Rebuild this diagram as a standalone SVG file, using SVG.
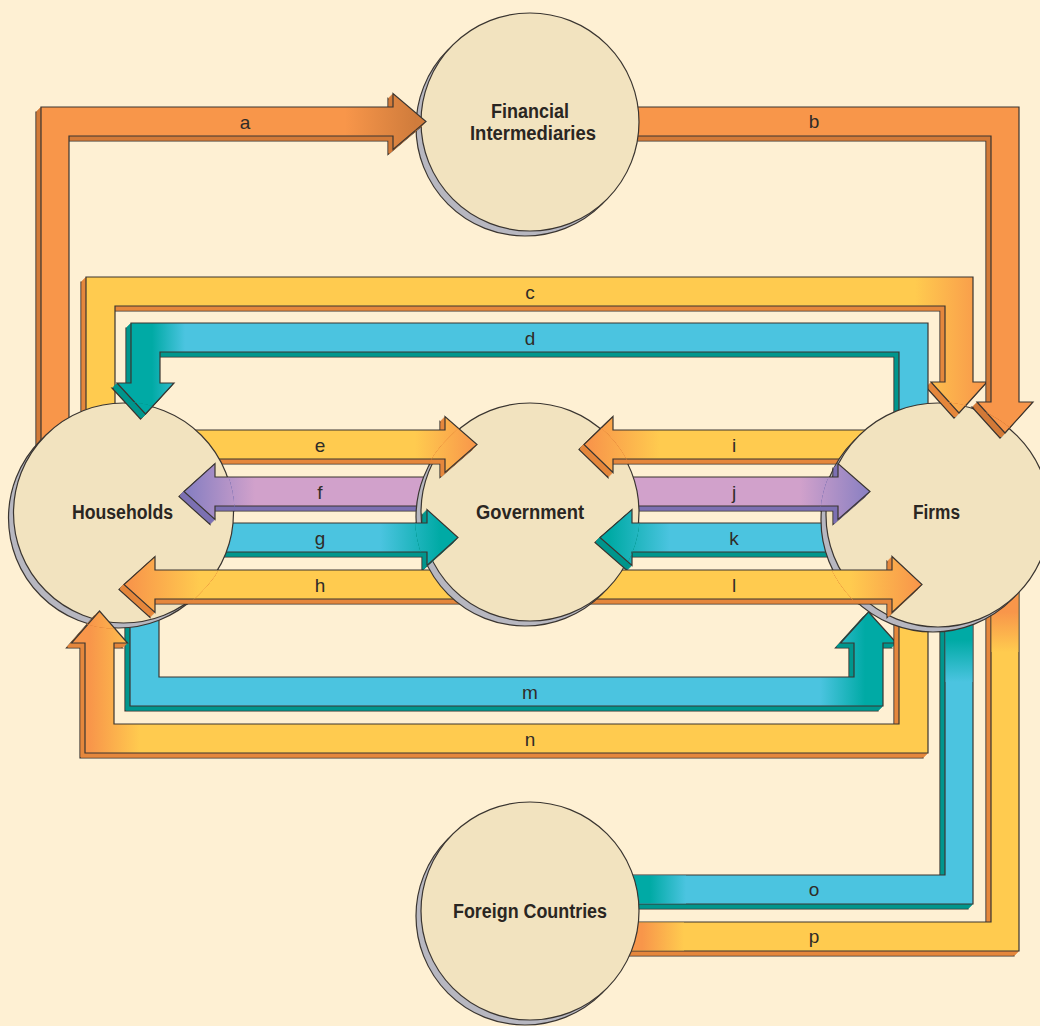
<svg xmlns="http://www.w3.org/2000/svg" xmlns:xlink="http://www.w3.org/1999/xlink" width="1040" height="1026" viewBox="0 0 1040 1026">
<style>
.face{stroke:#3a3530;stroke-width:1.2;stroke-linejoin:miter}
.do{fill:#D27A38;stroke:#D27A38;stroke-width:1}
.dy{fill:#E5873C;stroke:#E5873C;stroke-width:1}
.db{fill:#00968D;stroke:#00968D;stroke-width:1}
.dp{fill:#7C71B2;stroke:#7C71B2;stroke-width:1}
.edge{stroke:#3a3530;stroke-width:1.2}
.shadow{fill:#B7B7C0;stroke:#3a3530;stroke-width:1.2}
.disc{fill:#F2E3BF;stroke:#3a3530;stroke-width:1.2}
.lbl{font-family:"Liberation Sans",Arial,sans-serif;font-size:19px;fill:#302c28;text-anchor:middle}
.nl{font-family:"Liberation Sans",Arial,sans-serif;font-size:20px;font-weight:bold;fill:#2a2622;text-anchor:middle}
</style>
<defs>
<path id="pa" d="M41,470 L41,107 L393,107 L393,93.5 L426,121.5 L393,149.5 L393,136 L69,136 L69,470 Z"/>
<path id="pb" d="M600,107 L1019,107 L1019,402 L1033,402 L1005,433 L977,402 L991,402 L991,136 L600,136 Z"/>
<path id="pc" d="M86,450 L86,277 L973,277 L973,382 L987,382 L959,413 L931,382 L945,382 L945,306 L115,306 L115,450 Z"/>
<path id="pd" d="M928,450 L928,323 L131,323 L131,383 L117,383 L145.5,414 L174,383 L160,383 L160,352 L899,352 L899,450 Z"/>
<path id="pe" d="M160,430 L445,430 L445,416.5 L477,444.5 L445,472.5 L445,459 L160,459 Z"/>
<path id="pf" d="M460,477 L215,477 L215,463.5 L184,491.5 L215,519.5 L215,506 L460,506 Z"/>
<path id="pg" d="M190,523 L427,523 L427,509.5 L458,537.5 L427,565.5 L427,552 L190,552 Z"/>
<path id="ph" d="M490,570 L155,570 L155,556.5 L124,584.5 L155,612.5 L155,599 L490,599 Z"/>
<path id="pi" d="M885,430 L613,430 L613,416.5 L584,444.5 L613,472.5 L613,459 L885,459 Z"/>
<path id="pj" d="M590,477 L838,477 L838,463.5 L870,491.5 L838,519.5 L838,506 L590,506 Z"/>
<path id="pk" d="M880,523 L632,523 L632,509.5 L600,537.5 L632,565.5 L632,552 L880,552 Z"/>
<path id="pl" d="M580,570 L892,570 L892,556.5 L922,584.5 L892,612.5 L892,599 L580,599 Z"/>
<path id="pm" d="M130,560 L130,706 L883,706 L883,643 L896.5,643 L868.5,612 L840.5,643 L854,643 L854,677 L159,677 L159,560 Z"/>
<path id="pn" d="M899,580 L899,724 L114,724 L114,643 L127.5,643 L99.5,611 L71.5,643 L85,643 L85,753 L928,753 L928,580 Z"/>
<path id="po" d="M945,580 L945,875 L600,875 L600,904 L973,904 L973,580 Z"/>
<path id="pp" d="M991,570 L991,922 L600,922 L600,951 L1019,951 L1019,570 Z"/>

<linearGradient id="ga" gradientUnits="userSpaceOnUse" x1="345" y1="0" x2="415" y2="0"><stop offset="0" stop-color="#F8964A"/><stop offset="1" stop-color="#D07C3C"/></linearGradient>
<linearGradient id="gc" gradientUnits="userSpaceOnUse" x1="915" y1="0" x2="985" y2="0"><stop offset="0" stop-color="#FFCB4F"/><stop offset="1" stop-color="#F8964A"/></linearGradient>
<linearGradient id="gd" gradientUnits="userSpaceOnUse" x1="152" y1="0" x2="185" y2="0"><stop offset="0" stop-color="#00AAA5"/><stop offset="1" stop-color="#4BC4E0"/></linearGradient>
<linearGradient id="ge" gradientUnits="userSpaceOnUse" x1="415" y1="0" x2="477" y2="0"><stop offset="0" stop-color="#FFCB4F"/><stop offset="1" stop-color="#F8964A"/></linearGradient>
<linearGradient id="gf" gradientUnits="userSpaceOnUse" x1="190" y1="0" x2="255" y2="0"><stop offset="0" stop-color="#8A80C2"/><stop offset="1" stop-color="#D1A1CB"/></linearGradient>
<linearGradient id="gg" gradientUnits="userSpaceOnUse" x1="380" y1="0" x2="440" y2="0"><stop offset="0" stop-color="#4BC4E0"/><stop offset="1" stop-color="#00AAA5"/></linearGradient>
<linearGradient id="gh" gradientUnits="userSpaceOnUse" x1="130" y1="0" x2="200" y2="0"><stop offset="0" stop-color="#F8964A"/><stop offset="1" stop-color="#FFCB4F"/></linearGradient>
<linearGradient id="gi" gradientUnits="userSpaceOnUse" x1="590" y1="0" x2="660" y2="0"><stop offset="0" stop-color="#F8964A"/><stop offset="1" stop-color="#FFCB4F"/></linearGradient>
<linearGradient id="gj" gradientUnits="userSpaceOnUse" x1="800" y1="0" x2="868" y2="0"><stop offset="0" stop-color="#D1A1CB"/><stop offset="1" stop-color="#8A80C2"/></linearGradient>
<linearGradient id="gk" gradientUnits="userSpaceOnUse" x1="610" y1="0" x2="670" y2="0"><stop offset="0" stop-color="#00AAA5"/><stop offset="1" stop-color="#4BC4E0"/></linearGradient>
<linearGradient id="gl" gradientUnits="userSpaceOnUse" x1="850" y1="0" x2="920" y2="0"><stop offset="0" stop-color="#FFCB4F"/><stop offset="1" stop-color="#F8964A"/></linearGradient>
<linearGradient id="gm" gradientUnits="userSpaceOnUse" x1="820" y1="0" x2="865" y2="0"><stop offset="0" stop-color="#4BC4E0"/><stop offset="1" stop-color="#00AAA5"/></linearGradient>
<linearGradient id="gn" gradientUnits="userSpaceOnUse" x1="90" y1="0" x2="140" y2="0"><stop offset="0" stop-color="#F8964A"/><stop offset="1" stop-color="#FFCB4F"/></linearGradient>
<linearGradient id="go1" gradientUnits="userSpaceOnUse" x1="0" y1="640" x2="0" y2="682"><stop offset="0" stop-color="#00AAA5"/><stop offset="1" stop-color="#4BC4E0"/></linearGradient>
<linearGradient id="go2" gradientUnits="userSpaceOnUse" x1="650" y1="0" x2="686" y2="0"><stop offset="0" stop-color="#00AAA5"/><stop offset="1" stop-color="#4BC4E0"/></linearGradient>
<linearGradient id="gp1" gradientUnits="userSpaceOnUse" x1="0" y1="612" x2="0" y2="652"><stop offset="0" stop-color="#F8964A"/><stop offset="1" stop-color="#FFCB4F"/></linearGradient>
<linearGradient id="gp2" gradientUnits="userSpaceOnUse" x1="642" y1="0" x2="684" y2="0"><stop offset="0" stop-color="#F8964A"/><stop offset="1" stop-color="#FFCB4F"/></linearGradient>

<clipPath id="cFI"><circle cx="530" cy="122" r="110"/><circle cx="525" cy="127" r="110"/></clipPath>
<clipPath id="cH"><circle cx="123.5" cy="513" r="111"/><circle cx="118.5" cy="518" r="111"/></clipPath>
<clipPath id="cG"><circle cx="530" cy="512" r="110"/><circle cx="525" cy="517" r="110"/></clipPath>
<clipPath id="cF"><circle cx="938" cy="515" r="113"/><circle cx="933" cy="520" r="113"/></clipPath>
</defs>

<rect x="0" y="0" width="1040" height="1026" fill="#FEF0D3"/>

<g id="connectors">
<g id="arrow-a"><use href="#pa" x="-5" y="5" class="do edge"/><g class="do"><use href="#pa" x="-4" y="4"/><use href="#pa" x="-3" y="3"/><use href="#pa" x="-2" y="2"/><use href="#pa" x="-1" y="1"/></g><use href="#pa" class="face" fill="url(#ga)"/></g>
<g id="arrow-c"><use href="#pc" x="-5" y="5" class="dy edge"/><g class="dy"><use href="#pc" x="-4" y="4"/><use href="#pc" x="-3" y="3"/><use href="#pc" x="-2" y="2"/><use href="#pc" x="-1" y="1"/></g><use href="#pc" class="face" fill="url(#gc)"/></g>
<g id="arrow-b"><use href="#pb" x="-5" y="5" class="do edge"/><g class="do"><use href="#pb" x="-4" y="4"/><use href="#pb" x="-3" y="3"/><use href="#pb" x="-2" y="2"/><use href="#pb" x="-1" y="1"/></g><use href="#pb" class="face" fill="#F8964A"/></g>
<g id="arrow-d"><use href="#pd" x="-5" y="5" class="db edge"/><g class="db"><use href="#pd" x="-4" y="4"/><use href="#pd" x="-3" y="3"/><use href="#pd" x="-2" y="2"/><use href="#pd" x="-1" y="1"/></g><use href="#pd" class="face" fill="url(#gd)"/></g>
<g id="arrow-e"><use href="#pe" x="-5" y="5" class="dy edge"/><g class="dy"><use href="#pe" x="-4" y="4"/><use href="#pe" x="-3" y="3"/><use href="#pe" x="-2" y="2"/><use href="#pe" x="-1" y="1"/></g><use href="#pe" class="face" fill="url(#ge)"/></g>
<g id="arrow-f"><use href="#pf" x="-5" y="5" class="dp edge"/><g class="dp"><use href="#pf" x="-4" y="4"/><use href="#pf" x="-3" y="3"/><use href="#pf" x="-2" y="2"/><use href="#pf" x="-1" y="1"/></g><use href="#pf" class="face" fill="url(#gf)"/></g>
<g id="arrow-g"><use href="#pg" x="-5" y="5" class="db edge"/><g class="db"><use href="#pg" x="-4" y="4"/><use href="#pg" x="-3" y="3"/><use href="#pg" x="-2" y="2"/><use href="#pg" x="-1" y="1"/></g><use href="#pg" class="face" fill="url(#gg)"/></g>
<g id="arrow-h"><use href="#ph" x="-5" y="5" class="dy edge"/><g class="dy"><use href="#ph" x="-4" y="4"/><use href="#ph" x="-3" y="3"/><use href="#ph" x="-2" y="2"/><use href="#ph" x="-1" y="1"/></g><use href="#ph" class="face" fill="url(#gh)"/></g>
<g id="arrow-i"><use href="#pi" x="-5" y="5" class="dy edge"/><g class="dy"><use href="#pi" x="-4" y="4"/><use href="#pi" x="-3" y="3"/><use href="#pi" x="-2" y="2"/><use href="#pi" x="-1" y="1"/></g><use href="#pi" class="face" fill="url(#gi)"/></g>
<g id="arrow-j"><use href="#pj" x="-5" y="5" class="dp edge"/><g class="dp"><use href="#pj" x="-4" y="4"/><use href="#pj" x="-3" y="3"/><use href="#pj" x="-2" y="2"/><use href="#pj" x="-1" y="1"/></g><use href="#pj" class="face" fill="url(#gj)"/></g>
<g id="arrow-k"><use href="#pk" x="-5" y="5" class="db edge"/><g class="db"><use href="#pk" x="-4" y="4"/><use href="#pk" x="-3" y="3"/><use href="#pk" x="-2" y="2"/><use href="#pk" x="-1" y="1"/></g><use href="#pk" class="face" fill="url(#gk)"/></g>
<g id="arrow-l"><use href="#pl" x="-5" y="5" class="dy edge"/><g class="dy"><use href="#pl" x="-4" y="4"/><use href="#pl" x="-3" y="3"/><use href="#pl" x="-2" y="2"/><use href="#pl" x="-1" y="1"/></g><use href="#pl" class="face" fill="url(#gl)"/></g>
<g id="arrow-m"><use href="#pm" x="-5" y="5" class="db edge"/><g class="db"><use href="#pm" x="-4" y="4"/><use href="#pm" x="-3" y="3"/><use href="#pm" x="-2" y="2"/><use href="#pm" x="-1" y="1"/></g><use href="#pm" class="face" fill="url(#gm)"/></g>
<g id="arrow-n"><use href="#pn" x="-5" y="5" class="dy edge"/><g class="dy"><use href="#pn" x="-4" y="4"/><use href="#pn" x="-3" y="3"/><use href="#pn" x="-2" y="2"/><use href="#pn" x="-1" y="1"/></g><use href="#pn" class="face" fill="url(#gn)"/></g>
<g id="arrow-o"><use href="#po" x="-5" y="5" class="db edge"/><g class="db"><use href="#po" x="-4" y="4"/><use href="#po" x="-3" y="3"/><use href="#po" x="-2" y="2"/><use href="#po" x="-1" y="1"/></g><use href="#po" class="face" fill="#4BC4E0"/>
<rect x="945.6" y="590" width="26.8" height="92" fill="url(#go1)"/><rect x="600" y="875.6" width="86" height="27.8" fill="url(#go2)"/></g>
<g id="arrow-p"><use href="#pp" x="-5" y="5" class="dy edge"/><g class="dy"><use href="#pp" x="-4" y="4"/><use href="#pp" x="-3" y="3"/><use href="#pp" x="-2" y="2"/><use href="#pp" x="-1" y="1"/></g><use href="#pp" class="face" fill="#FFCB4F"/>
<rect x="991.6" y="580" width="26.8" height="72" fill="url(#gp1)"/><rect x="600" y="922.6" width="84" height="27.8" fill="url(#gp2)"/></g>
</g>

<g id="node-financial-intermediaries">
<circle cx="525" cy="127" r="109" class="shadow"/><circle cx="530" cy="122" r="109" class="disc"/>
<text class="nl" x="530" y="118" textLength="78" lengthAdjust="spacingAndGlyphs">Financial</text>
<text class="nl" x="533" y="140" textLength="126" lengthAdjust="spacingAndGlyphs">Intermediaries</text>
</g>
<g id="node-households">
<circle cx="118.5" cy="518" r="110" class="shadow"/><circle cx="123.5" cy="513" r="110" class="disc"/>
<text class="nl" x="122.5" y="519" textLength="101" lengthAdjust="spacingAndGlyphs">Households</text>
</g>
<g id="node-government">
<circle cx="525" cy="517" r="109" class="shadow"/><circle cx="530" cy="512" r="109" class="disc"/>
<text class="nl" x="530" y="519" textLength="108" lengthAdjust="spacingAndGlyphs">Government</text>
</g>
<g id="node-firms">
<circle cx="933" cy="520" r="112" class="shadow"/><circle cx="938" cy="515" r="112" class="disc"/>
<text class="nl" x="936.5" y="519" textLength="47" lengthAdjust="spacingAndGlyphs">Firms</text>
</g>
<g id="node-foreign-countries">
<circle cx="525" cy="916" r="109" class="shadow"/><circle cx="530" cy="911" r="109" class="disc"/>
<text class="nl" x="530" y="918" textLength="154" lengthAdjust="spacingAndGlyphs">Foreign Countries</text>
</g>

<g id="arrowheads-over-nodes">
<use href="#arrow-a" clip-path="url(#cFI)"/>
<use href="#arrow-c" clip-path="url(#cF)"/>
<use href="#arrow-b" clip-path="url(#cF)"/>
<use href="#arrow-d" clip-path="url(#cH)"/>
<use href="#arrow-e" clip-path="url(#cG)"/>
<use href="#arrow-f" clip-path="url(#cH)"/>
<use href="#arrow-g" clip-path="url(#cG)"/>
<use href="#arrow-h" clip-path="url(#cH)"/>
<use href="#arrow-i" clip-path="url(#cG)"/>
<use href="#arrow-j" clip-path="url(#cF)"/>
<use href="#arrow-k" clip-path="url(#cG)"/>
<use href="#arrow-l" clip-path="url(#cF)"/>
<use href="#arrow-m" clip-path="url(#cF)"/>
<use href="#arrow-n" clip-path="url(#cH)"/>
</g>

<g id="connector-labels">
<text class="lbl" x="245" y="129">a</text>
<text class="lbl" x="814" y="128">b</text>
<text class="lbl" x="530" y="299">c</text>
<text class="lbl" x="530" y="345">d</text>
<text class="lbl" x="320" y="452">e</text>
<text class="lbl" x="320" y="499">f</text>
<text class="lbl" x="320" y="545">g</text>
<text class="lbl" x="320" y="592">h</text>
<text class="lbl" x="734" y="452">i</text>
<text class="lbl" x="734" y="499">j</text>
<text class="lbl" x="734" y="545">k</text>
<text class="lbl" x="734" y="592">l</text>
<text class="lbl" x="530" y="699">m</text>
<text class="lbl" x="530" y="746">n</text>
<text class="lbl" x="814" y="896">o</text>
<text class="lbl" x="814" y="943">p</text>
</g>
</svg>
